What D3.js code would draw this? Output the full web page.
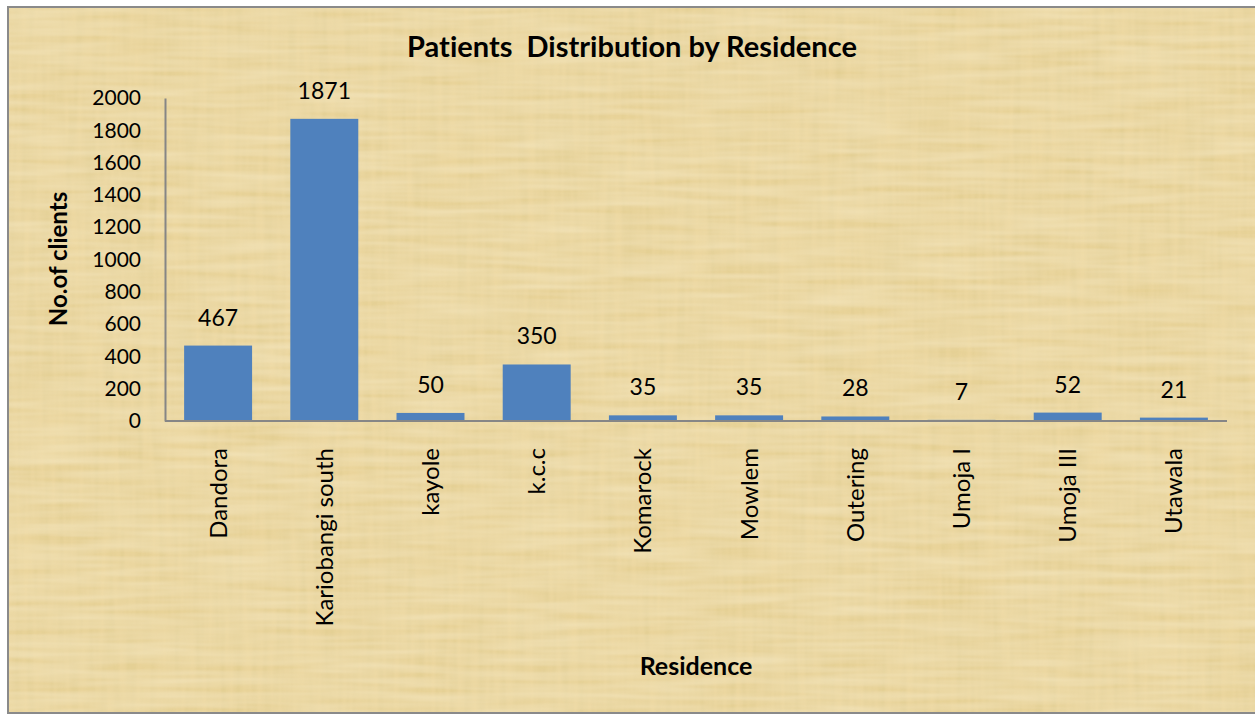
<!DOCTYPE html>
<html><head><meta charset="utf-8">
<script src="https://cdn.jsdelivr.net/npm/d3@7"></script>
<style>html,body{margin:0;padding:0;background:#fff;}svg{display:block;}text{font-variant-ligatures:none;font-feature-settings:"liga" 0;}</style>
</head><body>
<svg id="c" width="1255" height="715"></svg>
<script>
const categories = ["Dandora","Kariobangi south","kayole","k.c.c","Komarock","Mowlem","Outering","Umoja I","Umoja III","Utawala"];
const values = [467,1871,50,350,35,35,28,7,52,21];
const yTicks = [0,200,400,600,800,1000,1200,1400,1600,1800,2000];
const title = "Patients\u00a0 Distribution by Residence";
const yTitle = "No.of clients";
const xTitle = "Residence";

const svg = d3.select("#c");
const font = "Lato, 'Open Sans', sans-serif";

// background / texture
const defs = svg.append("defs");
const f = defs.append("filter").attr("id","pap").attr("x",0).attr("y",0).attr("width","100%").attr("height","100%");
f.append("feTurbulence").attr("type","fractalNoise").attr("baseFrequency","0.14 0.01").attr("numOctaves",2).attr("seed",3).attr("result","n1");
f.append("feColorMatrix").attr("in","n1").attr("type","matrix")
 .attr("values","0 0 0 0 0.62  0 0 0 0 0.52  0 0 0 0 0.2  0.9 0 0 0 -0.2").attr("result","a1");
f.append("feTurbulence").attr("type","fractalNoise").attr("baseFrequency","0.01 0.14").attr("numOctaves",2).attr("seed",7).attr("result","n2");
f.append("feColorMatrix").attr("in","n2").attr("type","matrix")
 .attr("values","0 0 0 0 1  0 0 0 0 0.96  0 0 0 0 0.8  0.9 0 0 0 -0.2").attr("result","a2");
f.append("feMerge").call(m=>{m.append("feMergeNode").attr("in","a1");m.append("feMergeNode").attr("in","a2");});

svg.append("rect").attr("x",8).attr("y",7).attr("width",1260).attr("height",706)
  .attr("fill","#EBD59C").attr("stroke","#8a8a8a").attr("stroke-width",2);
svg.append("rect").attr("x",9).attr("y",8).attr("width",1250).attr("height",704)
  .attr("fill","#EBD59C").attr("filter","url(#pap)").attr("opacity",0.5);

const m = {left:165, right:1227, top:98, bottom:421};
const x = d3.scaleBand().domain(categories).range([m.left,m.right]).paddingInner(0.36).paddingOuter(0.18);
const y = d3.scaleLinear().domain([0,2000]).range([m.bottom,m.top]);

// bars
svg.append("g").selectAll("rect").data(values).join("rect")
  .attr("x",(d,i)=>x(categories[i])).attr("width",x.bandwidth())
  .attr("y",d=>y(d)).attr("height",d=>y(0)-y(d)).attr("fill","#4F81BD");

// value labels
svg.append("g").selectAll("text").data(values).join("text")
  .attr("x",(d,i)=>x(categories[i])+x.bandwidth()/2).attr("y",d=>y(d)-20)
  .attr("text-anchor","middle").attr("font-family",font).attr("font-size",23).attr("fill","#000")
  .text(d=>d);

// y axis
const ya = svg.append("g").attr("transform",`translate(${m.left},0)`)
  .call(d3.axisLeft(y).tickValues(yTicks).tickSize(0).tickPadding(24).tickFormat(d3.format("d")));
ya.select(".domain").attr("stroke","#868686").attr("stroke-width",2);
ya.selectAll("text").attr("font-family",font).attr("font-size",21).attr("fill","#000");

// x axis
const xa = svg.append("g").attr("transform",`translate(0,${m.bottom})`)
  .call(d3.axisBottom(x).tickSize(0).tickSizeOuter(0));
xa.select(".domain").attr("stroke","#868686").attr("stroke-width",2).attr("d",`M${m.left},0H${m.right}`);
xa.selectAll("text").attr("font-family",font).attr("font-size",24).attr("fill","#000")
  .attr("transform","rotate(-90)").attr("text-anchor","end").attr("dy","0.35em")
  .attr("x",-27).attr("y",0);

// titles
svg.append("text").attr("x",632).attr("y",57).attr("text-anchor","middle")
  .attr("font-family",font).attr("font-weight","bold").attr("font-size",29).text(title);
svg.append("text").attr("transform","translate(67,259) rotate(-90)").attr("text-anchor","middle")
  .attr("font-family",font).attr("font-weight","bold").attr("font-size",24).text(yTitle);
svg.append("text").attr("x",696).attr("y",675).attr("text-anchor","middle")
  .attr("font-family",font).attr("font-weight","bold").attr("font-size",25).text(xTitle);
</script>
</body></html>
